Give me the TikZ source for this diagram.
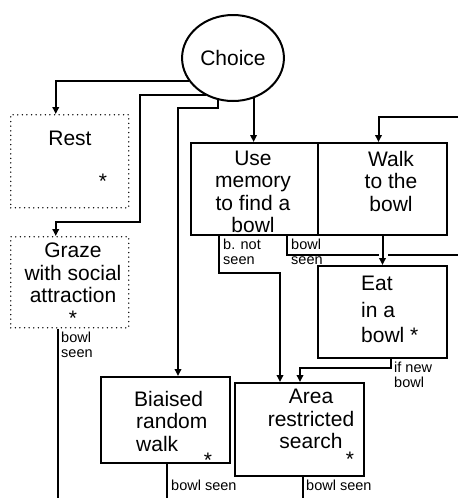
\documentclass[tikz,border=0pt]{standalone}
\usepackage{fontspec}
\setmainfont{Liberation Sans}
\usetikzlibrary{arrows.meta,shapes.geometric}

\tikzset{
  state/.style={draw, line width=2pt, anchor=north west},
  dotstate/.style={draw, line width=1.5pt, line cap=round, dash pattern=on 0pt off 4.6pt, anchor=north west},
  txt/.style={font=\fontsize{21}{22.5}\selectfont, inner sep=0pt},
  lbl/.style={font=\fontsize{14.5}{15}\selectfont, inner sep=0pt, align=left, anchor=west},
  link/.style={line width=2pt},
  arr/.style={link, -{Triangle[length=7pt,width=6.5pt]}},
}

\begin{document}
\begin{tikzpicture}[x=1pt,y=-1pt]
  \useasboundingbox (0,0) rectangle (458,498);

  % Choice
  \node[draw, ellipse, line width=2pt, minimum width=96pt, minimum height=86pt,
        font=\fontsize{21}{24}\selectfont] (choice) at (233,58) {Choice};

  % dotted states
  \node[dotstate, minimum width=118pt, minimum height=93pt] (rest) at (10,114) {};
  \node[txt] (rest-txt) at (70,138) {Rest};
  \node[txt] (rest-star) at (103,181) {*};

  \node[dotstate, minimum width=118pt, minimum height=91pt] (graze) at (10,236) {};
  \node[txt, align=center] (graze-txt) at (73,284) {Graze\\with social\\attraction\\*};

  % states with a bowl
  \node[state, minimum width=127pt, minimum height=92pt] (memory) at (190,142) {};
  \node[txt, align=center] (memory-txt) at (253,192) {Use\\memory\\to find a\\bowl};

  \node[state, minimum width=129pt, minimum height=92pt] (walk) at (317,142) {};
  \node[txt, align=center] (walk-txt) at (391,181) {Walk\\to the\\bowl};

  \node[state, minimum width=129pt, minimum height=92pt] (eat) at (317,265) {};
  \node[txt, align=left, anchor=west] (eat-txt) at (361,309) {Eat\\[5pt]in a\\[2pt]bowl *};

  % searching states
  \node[state, minimum width=129pt, minimum height=86pt] (brw) at (100,376) {};
  \node[txt, align=left, anchor=west] (brw-txt) at (136,421) {\hspace*{-2pt}Biaised\\random\\walk};
  \node[txt] (brw-star) at (208,460) {*};

  \node[state, minimum width=129pt, minimum height=93pt] (ars) at (234,382) {};
  \node[txt, align=center] (ars-txt) at (311,419) {Area\\restricted\\search};
  \node[txt] (ars-star) at (350,459) {*};

  % free ends
  \coordinate (turnA) at (140,222);
  \coordinate (turnB) at (178,108);
  \coordinate (turnC) at (280,273);
  \coordinate (turnD) at (300,368);
  \coordinate (inWalk) at (458,117);
  \coordinate (gapL) at (379,255);
  \coordinate (gapR) at (388,255);
  \coordinate (outSeen) at (458,255);

  % from Choice
  \draw[arr] (choice.208) -| ([xshift=-14pt]rest.north);
  \draw[arr] (choice.234) -| (turnA) -| ([xshift=-14pt]graze.north);
  \draw[arr] (choice.250) |- (turnB) -- (turnB |- brw.north);
  \draw[arr] (choice.297) -- (choice.297 |- memory.north);

  % bowl states
  \draw[arr] (inWalk) -| ([xshift=-4pt]walk.north);
  \draw[arr] ([xshift=-36pt]memory.south) |- (turnC) -- (turnC |- ars.north);
  \draw[link] ([xshift=32pt]memory.south) |- (gapL);
  \draw[link] (gapR) -- (outSeen);
  \draw[arr] (walk) -- (eat);
  \draw[arr] ([xshift=8pt]eat.south) |- (turnD) -- (turnD |- ars.north);

  % leaving the picture
  \draw[link] ([xshift=-12pt]graze.south) -- ++(0,172);
  \draw[link] ([xshift=1pt]brw.south) -- ++(0,36);
  \draw[link] ([xshift=3pt]ars.south) -- ++(0,23);

  % labels
  \node[lbl] (l-graze) at (61,345) {bowl\\seen};
  \node[lbl] (l-notseen) at (223,252) {b. not\\seen};
  \node[lbl] (l-seen) at (291,252) {bowl\\seen};
  \node[lbl] (l-new) at (394,375) {if new\\bowl};
  \node[lbl] (l-brw) at (171,485) {bowl seen};
  \node[lbl] (l-ars) at (306,485) {bowl seen};

\end{tikzpicture}
\end{document}
